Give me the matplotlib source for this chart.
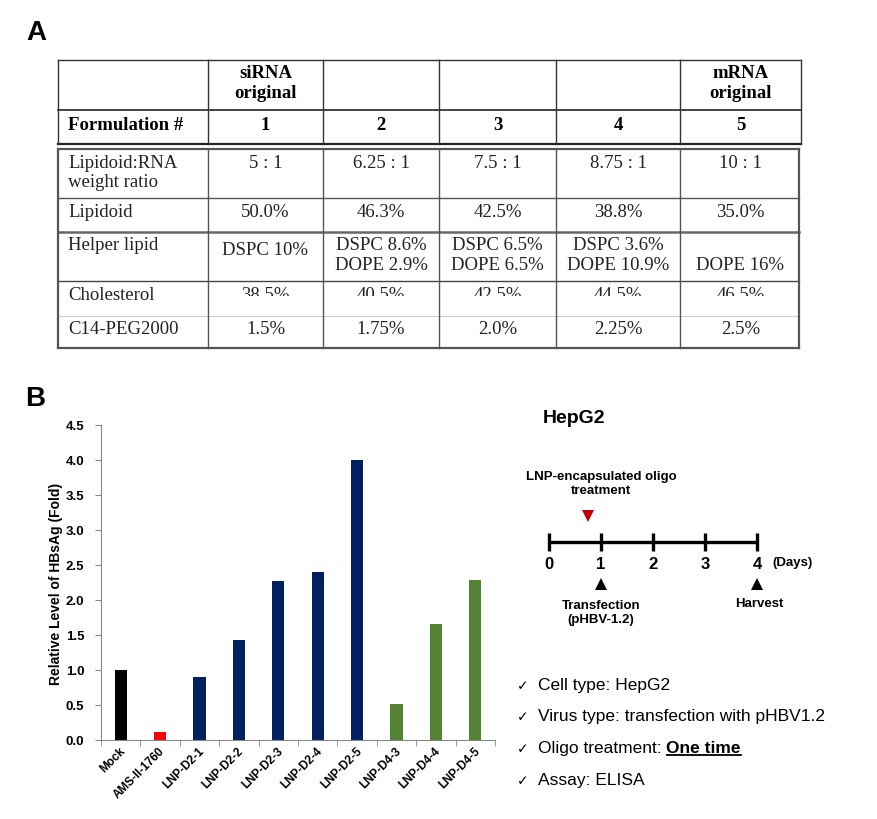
import matplotlib.pyplot as plt
from matplotlib.patches import Rectangle
from matplotlib.transforms import ScaledTranslation
import numpy as np

# --- A: formulation table ---
col_headers = ["", "siRNA\noriginal", "", "", "", "mRNA\noriginal"]
formulations = ["Formulation #", "1", "2", "3", "4", "5"]
row_labels = ["Lipidoid:RNA\nweight ratio", "Lipidoid", "Helper lipid", "Cholesterol", "C14-PEG2000"]
weight_ratio = ["5 : 1", "6.25 : 1", "7.5 : 1", "8.75 : 1", "10 : 1"]
lipidoid = ["50.0%", "46.3%", "42.5%", "38.8%", "35.0%"]
helper_lipid = ["DSPC 10%", "DSPC 8.6%\nDOPE 2.9%", "DSPC 6.5%\nDOPE 6.5%",
                "DSPC 3.6%\nDOPE 10.9%", "\nDOPE 16%"]
cholesterol = ["38.5%", "40.5%", "42.5%", "44.5%", "46.5%"]
peg = ["1.5%", "1.75%", "2.0%", "2.25%", "2.5%"]

# --- B: HBsAg levels ---
samples = ["Mock", "AMS-II-1760", "LNP-D2-1", "LNP-D2-2", "LNP-D2-3", "LNP-D2-4",
           "LNP-D2-5", "LNP-D4-3", "LNP-D4-4", "LNP-D4-5"]
hbsag = [1.0, 0.11, 0.90, 1.43, 2.27, 2.40, 4.0, 0.52, 1.66, 2.28]
bar_colors = ["black", "#ff0000"] + ["#002060"] * 5 + ["#548235"] * 3

# timeline
days = [0, 1, 2, 3, 4]
treat_day = 0.75
transfect_day = 1
harvest_day = 4

notes = ["Cell type: HepG2", "Virus type: transfection with pHBV1.2",
         "Oligo treatment: ", "Assay: ELISA"]

sans = ["Liberation Sans", "DejaVu Sans"]
serif = "Liberation Serif"

fig = plt.figure(figsize=(8.77, 8.2), dpi=100)

# overlay axes in pixel units for the table and the notes
ov = fig.add_axes([0, 0, 1, 1])
ov.set_xlim(0, 877)
ov.set_ylim(820, 0)
ov.axis("off")

ov.text(36, 33, "A", fontsize=20, fontweight="bold", family=sans, ha="center", va="center")
ov.text(35, 399, "B", fontsize=20, fontweight="bold", family=sans, ha="center", va="center")


def cell_text(x, y, s, ha="center", step=20.5, **kw):
    # one text per line, y is the baseline of the first line
    for k, line in enumerate(s.split("\n")):
        if line:
            ov.text(x, y + k * step, line, family=serif, fontsize=13.5, ha=ha,
                    va="baseline", zorder=3, **kw)


# table grid
cols = [58, 208, 323, 439, 556, 680, 801]
centers = [(cols[i] + cols[i + 1]) / 2 for i in range(len(cols) - 1)]
top1, mid1, bot1 = 61, 111, 145
rows2 = [150, 199, 233, 282, 317, 349]

ov.plot([cols[0], cols[-1]], [top1, top1], color="#333333", lw=1.0, zorder=4)
ov.plot([cols[0], cols[-1]], [mid1, mid1], color="#222222", lw=1.2, zorder=4)
ov.plot([cols[0], cols[-1]], [bot1, bot1], color="#222222", lw=1.6, zorder=4)
for c in cols:
    ov.plot([c, c], [top1, bot1], color="#333333", lw=1.0, zorder=4)

right2 = cols[-1] - 2
ov.plot([cols[0], right2], [rows2[0], rows2[0]], color="#555555", lw=1.6, zorder=4)
ov.plot([cols[0], right2], [rows2[-1], rows2[-1]], color="#555555", lw=1.6, zorder=4)
inner_styles = [("#555555", 1.0), ("#666666", 1.8), ("#444444", 1.0), ("#cccccc", 0.8)]
for r, (clr, lw) in zip(rows2[1:-1], inner_styles):
    ov.plot([cols[0], right2], [r, r], color=clr, lw=lw, zorder=4)
for c in cols[:-1] + [right2]:
    lw = 1.6 if c in (cols[0], right2) else 1.0
    ov.plot([c, c], [rows2[0], rows2[-1]], color="#555555", lw=lw, zorder=4)

# header text
for i, h in enumerate(col_headers):
    if h:
        cell_text(centers[i], 78, h, fontweight="bold", step=20.5)
cell_text(68, 130, formulations[0], ha="left", fontweight="bold")
for i, f in enumerate(formulations[1:]):
    cell_text(centers[i + 1], 130, f, fontweight="bold")

# body text
body = [weight_ratio, lipidoid, helper_lipid, cholesterol, peg]
row_base = [168, 217, 250, 300, 334]
for lab, vals, yb in zip(row_labels, body, row_base):
    cell_text(68, yb, lab, ha="left", color="#222222", step=19)
    for i, v in enumerate(vals):
        yy = yb + 5 if (lab == "Helper lipid" and "\n" not in v) else yb
        cell_text(centers[i + 1], yy, v, color="#222222")
# cholesterol values are cut off in the original
ov.add_patch(Rectangle((cols[1] + 2, 297), cols[-1] - cols[1] - 6, 18,
                       facecolor="white", edgecolor="none", zorder=3.5))

# --- bar chart ---
ax = fig.add_axes([101 / 877, 1 - 741 / 820, 394 / 877, 315 / 820])
x = np.arange(len(samples))
ax.bar(x, hbsag, width=0.31, color=bar_colors, zorder=2)
ax.set_xlim(-0.5, len(samples) - 0.5)
ax.set_ylim(0, 4.5)
yt = np.arange(0, 4.51, 0.5)
ax.set_yticks(yt)
ax.set_yticklabels([f"{v:.1f}" for v in yt], fontsize=9.5, fontweight="bold", family=sans)
ax.set_xticks(x)
ax.set_xticklabels(samples, rotation=45, ha="right", va="top", rotation_mode="anchor",
                   fontsize=8.5, fontweight="bold", family=sans)
ax.set_xticks(np.arange(-0.5, len(samples)), minor=True)
ax.tick_params(axis="x", which="major", length=0, pad=3)
ax.tick_params(axis="x", which="minor", length=4, direction="out", color="#888888")
ax.tick_params(axis="y", length=4, direction="out", color="#888888", pad=8)
for lbl in ax.get_xticklabels():
    lbl.set_transform(lbl.get_transform() + ScaledTranslation(-1 / 72, 0, fig.dpi_scale_trans))
for s in ["top", "right"]:
    ax.spines[s].set_visible(False)
for s in ["left", "bottom"]:
    ax.spines[s].set_color("#888888")
ax.set_ylabel("Relative Level of HBsAg (Fold)", fontsize=10, fontweight="bold",
              family=sans, labelpad=2)

# --- timeline ---
tl = fig.add_axes([500 / 877, 1 - 640 / 820, 360 / 877, 240 / 820])
tl.set_xlim((500 - 549) / 52, (860 - 549) / 52)
tl.set_ylim(640, 400)
tl.axis("off")
tl.text((543 - 549) / 52, 419, "HepG2", fontsize=14, fontweight="bold", family=sans,
        ha="left", va="center")
tl.plot([days[0], days[-1]], [543, 543], color="black", lw=2.4, solid_capstyle="butt")
for d in days:
    tl.plot([d, d], [534, 552], color="black", lw=2.4, solid_capstyle="butt")
    tl.text(d, 565, str(d), fontsize=12, fontweight="bold", family=sans,
            ha="center", va="center")
tl.text(days[-1] + 0.3, 563, "(Days)", fontsize=9.5, fontweight="bold", family=sans,
        ha="left", va="center")
tl.text(transfect_day, 484, "LNP-encapsulated oligo\ntreatment", fontsize=9.5,
        fontweight="bold", family=sans, ha="center", va="center", linespacing=1.2)
tl.plot([treat_day], [517], marker="v", markersize=8, color="#c00000", markeredgewidth=0)
tl.plot([transfect_day, harvest_day], [585, 585], linestyle="none", marker="^",
        markersize=9, color="black", markeredgewidth=0)
tl.text(transfect_day, 613, "Transfection\n(pHBV-1.2)", fontsize=9.5, fontweight="bold",
        family=sans, ha="center", va="center", linespacing=1.25)
tl.text(harvest_day + 0.04, 604, "Harvest", fontsize=9.5, fontweight="bold", family=sans,
        ha="center", va="center")

# --- notes ---
note_y = [686, 717, 749, 781]
for txt, yy in zip(notes, note_y):
    ov.text(517, yy, "\u2713", fontsize=10, family="DejaVu Sans", ha="left", va="center")
    t = ov.text(538, yy, txt, fontsize=12.5, family=sans, ha="left", va="center")
    if txt.startswith("Oligo"):
        ot = ov.annotate("One time", xy=(1, 0), xycoords=t, fontsize=12.5, family=sans,
                         fontweight="bold", ha="left", va="bottom")

fig.canvas.draw()
bb = ot.get_window_extent()
fig.add_artist(plt.Line2D([bb.x0 / 877, bb.x1 / 877], [(bb.y0 + 1) / 820] * 2,
                          color="black", lw=1.3))

fig.savefig("out.png", dpi=100)
